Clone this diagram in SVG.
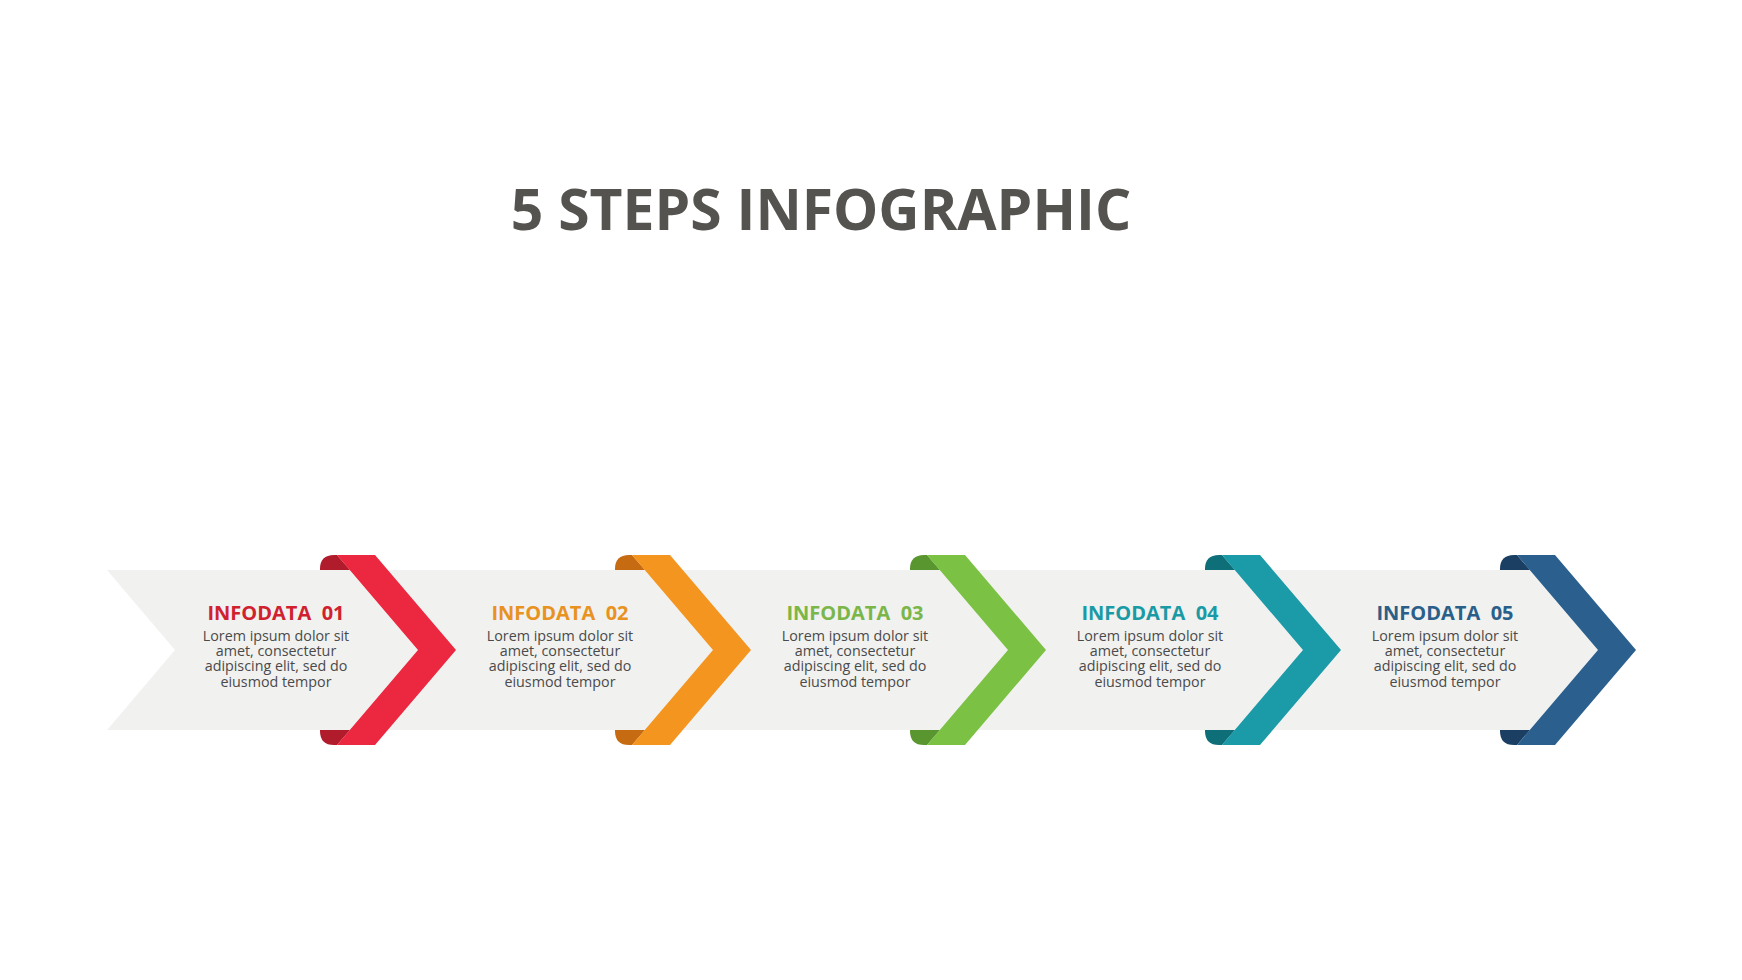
<svg xmlns="http://www.w3.org/2000/svg" width="1742" height="980" viewBox="0 0 1742 980">
<style>
.title{font-family:"Open Sans","Liberation Sans",sans-serif;font-weight:700;font-size:57px;fill:#545350;text-anchor:middle}
.head{font-family:"Open Sans","Liberation Sans",sans-serif;font-weight:700;font-size:20px;text-anchor:middle;white-space:pre}
.body{font-family:"Open Sans","Liberation Sans",sans-serif;font-size:14.3px;fill:#4a4a4a;text-anchor:middle}
.band{fill:#f1f1f0}
</style>
<defs>
<path id="strip" d="M375,555 L456,650 L375,745 L337,745 L418,650 L337,555 Z"/>
<path id="curlT" d="M350,570 L337,555 L334,555 Q320,555 320,569 L320,570 Z"/>
<path id="curlB" d="M350,730 L337,745 L334,745 Q320,745 320,731 L320,730 Z"/>
</defs>
<rect width="1742" height="980" fill="#ffffff"/>
<text class="title" x="821" y="230">5 STEPS INFOGRAPHIC</text>
<polygon class="band" points="107,570 1545,570 1615,650 1545,730 107,730 175,650"/>
<g id="connectors"></g>
<g id="step1">
<use href="#curlT" fill="#b01c2c"/><use href="#curlB" fill="#b01c2c"/>
<use href="#strip" fill="#ec2840"/>
<text class="head" x="276" y="620" fill="#d0212e" xml:space="preserve">INFODATA  01</text>
<text class="body" x="276" y="641"><tspan x="276">Lorem ipsum dolor sit</tspan><tspan x="276" dy="15">amet, consectetur</tspan><tspan x="276" dy="15">adipiscing elit, sed do</tspan><tspan x="276" dy="16">eiusmod tempor</tspan></text>
</g>
<g id="step2">
<g transform="translate(295,0)">
<use href="#curlT" fill="#c66b12"/><use href="#curlB" fill="#c66b12"/>
<use href="#strip" fill="#f4951f"/>
</g>
<text class="head" x="560" y="620" fill="#e8921f" xml:space="preserve">INFODATA  02</text>
<text class="body" x="560" y="641"><tspan x="560">Lorem ipsum dolor sit</tspan><tspan x="560" dy="15">amet, consectetur</tspan><tspan x="560" dy="15">adipiscing elit, sed do</tspan><tspan x="560" dy="16">eiusmod tempor</tspan></text>
</g>
<g id="step3">
<g transform="translate(590,0)">
<use href="#curlT" fill="#5a9630"/><use href="#curlB" fill="#5a9630"/>
<use href="#strip" fill="#7bc143"/>
</g>
<text class="head" x="855" y="620" fill="#7ab648" xml:space="preserve">INFODATA  03</text>
<text class="body" x="855" y="641"><tspan x="855">Lorem ipsum dolor sit</tspan><tspan x="855" dy="15">amet, consectetur</tspan><tspan x="855" dy="15">adipiscing elit, sed do</tspan><tspan x="855" dy="16">eiusmod tempor</tspan></text>
</g>
<g id="step4">
<g transform="translate(885,0)">
<use href="#curlT" fill="#0f6f78"/><use href="#curlB" fill="#0f6f78"/>
<use href="#strip" fill="#1b9aa7"/>
</g>
<text class="head" x="1150" y="620" fill="#1a9aa5" xml:space="preserve">INFODATA  04</text>
<text class="body" x="1150" y="641"><tspan x="1150">Lorem ipsum dolor sit</tspan><tspan x="1150" dy="15">amet, consectetur</tspan><tspan x="1150" dy="15">adipiscing elit, sed do</tspan><tspan x="1150" dy="16">eiusmod tempor</tspan></text>
</g>
<g id="step5">
<g transform="translate(1180,0)">
<use href="#curlT" fill="#1b3f62"/><use href="#curlB" fill="#1b3f62"/>
<use href="#strip" fill="#2a5f8e"/>
</g>
<text class="head" x="1445" y="620" fill="#2a5f8a" xml:space="preserve">INFODATA  05</text>
<text class="body" x="1445" y="641"><tspan x="1445">Lorem ipsum dolor sit</tspan><tspan x="1445" dy="15">amet, consectetur</tspan><tspan x="1445" dy="15">adipiscing elit, sed do</tspan><tspan x="1445" dy="16">eiusmod tempor</tspan></text>
</g>
</svg>
